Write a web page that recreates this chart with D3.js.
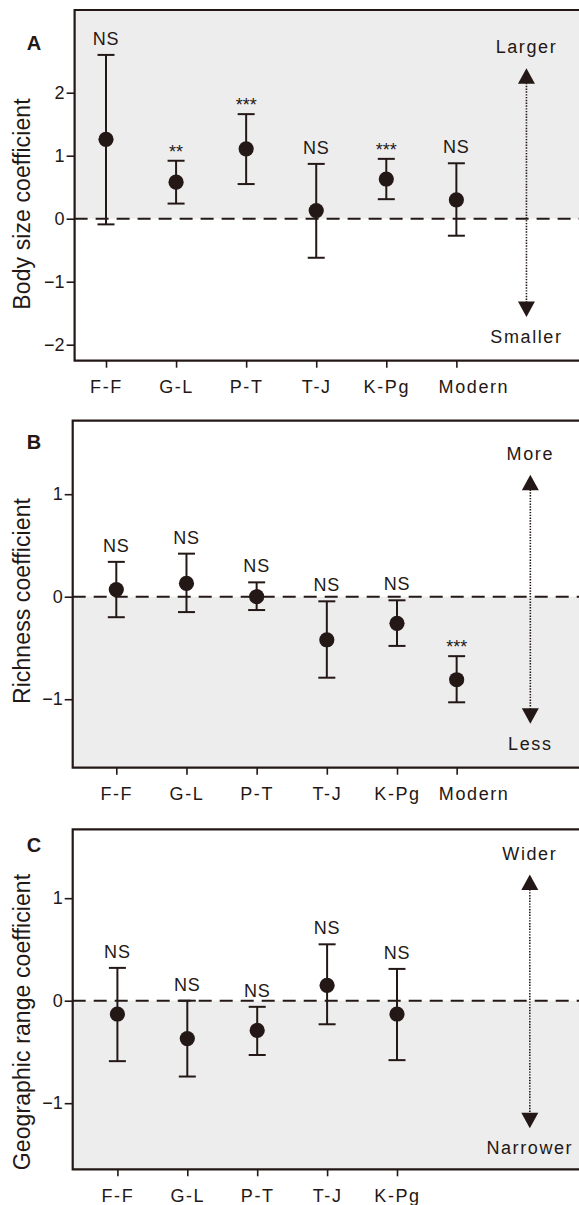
<!DOCTYPE html>
<html>
<head>
<meta charset="utf-8">
<script src="https://cdn.jsdelivr.net/npm/d3@7"></script>
<style>
  html, body { margin: 0; background: #fff; overflow: hidden; }
  svg { display: block; }
  text { font-family: "Liberation Sans", Arial, sans-serif; fill: #231815; }
</style>
</head>
<body>
<div id="container"></div>
<script>
//Data
const categories = ["F-F", "G-L", "P-T", "T-J", "K-Pg", "Modern"];

const bodyMean = [1.26, 0.58, 1.11, 0.13, 0.63, 0.30];
const bodyLow  = [-0.09, 0.24, 0.55, -0.62, 0.31, -0.27];
const bodyHigh = [2.60, 0.92, 1.66, 0.87, 0.95, 0.88];
const bodySig  = ["NS", "**", "***", "NS", "***", "NS"];

const richMean = [0.07, 0.13, 0.00, -0.42, -0.26, -0.81];
const richLow  = [-0.20, -0.15, -0.13, -0.79, -0.48, -1.03];
const richHigh = [0.34, 0.42, 0.14, -0.045, -0.035, -0.58];
const richSig  = ["NS", "NS", "NS", "NS", "NS", "***"];

const geoCategories = ["F-F", "G-L", "P-T", "T-J", "K-Pg"];
const geoMean = [-0.13, -0.37, -0.29, 0.15, -0.13];
const geoLow  = [-0.59, -0.74, -0.53, -0.23, -0.58];
const geoHigh = [0.32, 0.00, -0.06, 0.55, 0.31];
const geoSig  = ["NS", "NS", "NS", "NS", "NS"];

const bodyTicks = [-2, -1, 0, 1, 2];
const richTicks = [-1, 0, 1];
const geoTicks  = [-1, 0, 1];

//Create dimensions (svg is a little wider than the window: the frames run off the right edge)
const width = 579;
const height = 1205;
const svgWidth = 620;
const ink = "#231815";
const shade = "#ededed";

const svg = d3.select("#container")
    .append("svg")
    .attr("width", svgWidth)
    .attr("height", height);

svg.append("rect").attr("width", svgWidth).attr("height", height).attr("fill", "#fff");

//Panel settings (layout only)
const panels = [
    {letter: "A", title: "Body size coefficient", cats: categories, mean: bodyMean, low: bodyLow, high: bodyHigh, sig: bodySig,
     ticks: bodyTicks, yDomain: [-2.254, 3.313], top: 10, bottom: 360.7, left: 74.6,
     xFirst: 106, xFifth: 386.3, modernSlot: 5, arrowSlot: 6, arrowEnds: [2.39, -1.56],
     words: ["Larger", "Smaller"], shadeAbove: true, titleY: 204, letterY: 49.5},
    {letter: "B", title: "Richness coefficient", cats: categories, mean: richMean, low: richLow, high: richHigh, sig: richSig,
     ticks: richTicks, yDomain: [-1.668, 1.717], top: 420.7, bottom: 767.7, left: 72.7,
     xFirst: 116.3, xFifth: 397, modernSlot: 4.85, arrowSlot: 5.9, arrowEnds: [1.19, -1.24],
     words: ["More", "Less"], shadeAbove: false, titleY: 601, letterY: 448.5},
    {letter: "C", title: "Geographic range coefficient", cats: geoCategories, mean: geoMean, low: geoLow, high: geoHigh, sig: geoSig,
     ticks: geoTicks, yDomain: [-1.645, 1.672], top: 829.3, bottom: 1169.3, left: 72.7,
     xFirst: 117.4, xFifth: 397, modernSlot: 5, arrowSlot: 5.9, arrowEnds: [1.23, -1.245],
     words: ["Wider", "Narrower"], shadeAbove: false, titleY: 1022, letterY: 852}
];

panels.forEach(p => {
    const g = svg.append("g");

    //Scales
    const slot = d3.scaleLinear().domain([0, 4]).range([p.xFirst, p.xFifth]);
    const x = d3.scaleOrdinal()
        .domain(p.cats)
        .range(p.cats.map((c, i) => slot(c === "Modern" ? p.modernSlot : i)));
    const y = d3.scaleLinear().domain(p.yDomain).range([p.bottom, p.top]);
    const xArrow = slot(p.arrowSlot);

    //Shaded half
    const y0 = y(0);
    g.append("rect")
        .attr("x", p.left)
        .attr("y", p.shadeAbove ? p.top : y0)
        .attr("width", svgWidth - p.left)
        .attr("height", p.shadeAbove ? y0 - p.top : p.bottom - y0)
        .attr("fill", shade);

    //Zero line
    g.append("line")
        .attr("x1", p.left).attr("x2", svgWidth)
        .attr("y1", y0).attr("y2", y0)
        .attr("stroke", ink)
        .attr("stroke-width", 2)
        .attr("stroke-dasharray", "13,8");

    //Direction arrow
    const tipTop = y(p.arrowEnds[0]);
    const tipBottom = y(p.arrowEnds[1]);
    g.append("line")
        .attr("x1", xArrow).attr("x2", xArrow)
        .attr("y1", tipTop + 12).attr("y2", tipBottom - 12)
        .attr("stroke", ink)
        .attr("stroke-width", 1.6)
        .attr("stroke-dasharray", "1.4,1.4");
    g.append("path")
        .attr("d", `M${xArrow},${tipTop} L${xArrow - 8.5},${tipTop + 15.5} L${xArrow + 8.5},${tipTop + 15.5} Z`)
        .attr("fill", ink);
    g.append("path")
        .attr("d", `M${xArrow},${tipBottom} L${xArrow - 8.5},${tipBottom - 15.5} L${xArrow + 8.5},${tipBottom - 15.5} Z`)
        .attr("fill", ink);
    g.append("text")
        .attr("x", xArrow).attr("y", tipTop - 15)
        .attr("text-anchor", "middle")
        .style("font-size", "18px").style("letter-spacing", "1.6px")
        .text(p.words[0]);
    g.append("text")
        .attr("x", xArrow).attr("y", tipBottom + 26)
        .attr("text-anchor", "middle")
        .style("font-size", "18px").style("letter-spacing", "1.6px")
        .text(p.words[1]);

    //Error bars
    const rows = p.cats.map((c, i) => ({cat: c, mean: p.mean[i], low: p.low[i], high: p.high[i], sig: p.sig[i]}));
    const bars = g.selectAll(".bar").data(rows).join("g").attr("class", "bar");
    bars.append("line")
        .attr("x1", d => x(d.cat)).attr("x2", d => x(d.cat))
        .attr("y1", d => y(d.low)).attr("y2", d => y(d.high))
        .attr("stroke", ink).attr("stroke-width", 2);
    bars.selectAll(".cap")
        .data(d => [{cat: d.cat, v: d.low}, {cat: d.cat, v: d.high}])
        .join("line")
        .attr("class", "cap")
        .attr("x1", d => x(d.cat) - 8.5).attr("x2", d => x(d.cat) + 8.5)
        .attr("y1", d => y(d.v)).attr("y2", d => y(d.v))
        .attr("stroke", ink).attr("stroke-width", 2);
    bars.append("circle")
        .attr("cx", d => x(d.cat))
        .attr("cy", d => y(d.mean))
        .attr("r", 7.6)
        .attr("fill", ink);
    bars.append("text")
        .attr("x", d => x(d.cat))
        .attr("y", d => y(d.high) - (d.sig === "NS" ? 10 : 3))
        .attr("text-anchor", "middle")
        .style("font-size", "18px")
        .style("letter-spacing", d => d.sig === "NS" ? "0.8px" : "0px")
        .text(d => d.sig);

    //Frame (open on the right, runs past the window edge)
    g.append("path")
        .attr("d", `M${svgWidth},${p.top} H${p.left} V${p.bottom} H${svgWidth}`)
        .attr("fill", "none")
        .attr("stroke", ink)
        .attr("stroke-width", 2.2);

    //Axes
    const yAxis = g.append("g")
        .attr("transform", `translate(${p.left},0)`)
        .call(d3.axisLeft(y).tickValues(p.ticks).tickSize(8).tickPadding(2).tickFormat(d3.format("d")));
    yAxis.select(".domain").remove();
    yAxis.selectAll("line").attr("stroke", ink).attr("stroke-width", 1.6);
    yAxis.selectAll("text")
        .attr("fill", ink)
        .style("font-family", "Liberation Sans, Arial, sans-serif")
        .style("font-size", "18px");

    const xAxis = g.append("g")
        .attr("transform", `translate(0,${p.bottom})`)
        .call(d3.axisBottom(x).tickSize(7).tickPadding(13));
    xAxis.select(".domain").remove();
    xAxis.selectAll("line").attr("stroke", ink).attr("stroke-width", 1.6);
    xAxis.selectAll("text")
        .attr("fill", ink)
        .attr("dx", d => d === "Modern" ? 17 : 0)
        .style("font-family", "Liberation Sans, Arial, sans-serif")
        .style("font-size", "18px")
        .style("letter-spacing", "1.6px");

    //Axis title
    g.append("text")
        .attr("transform", `translate(30,${p.titleY}) rotate(-90)`)
        .attr("text-anchor", "middle")
        .style("font-size", "23px")
        .style("letter-spacing", "0.1px")
        .text(p.title);

    //Panel letter
    g.append("text")
        .attr("x", 34).attr("y", p.letterY)
        .attr("text-anchor", "middle")
        .style("font-size", "20px")
        .style("font-weight", "bold")
        .text(p.letter);
});
</script>
</body>
</html>
